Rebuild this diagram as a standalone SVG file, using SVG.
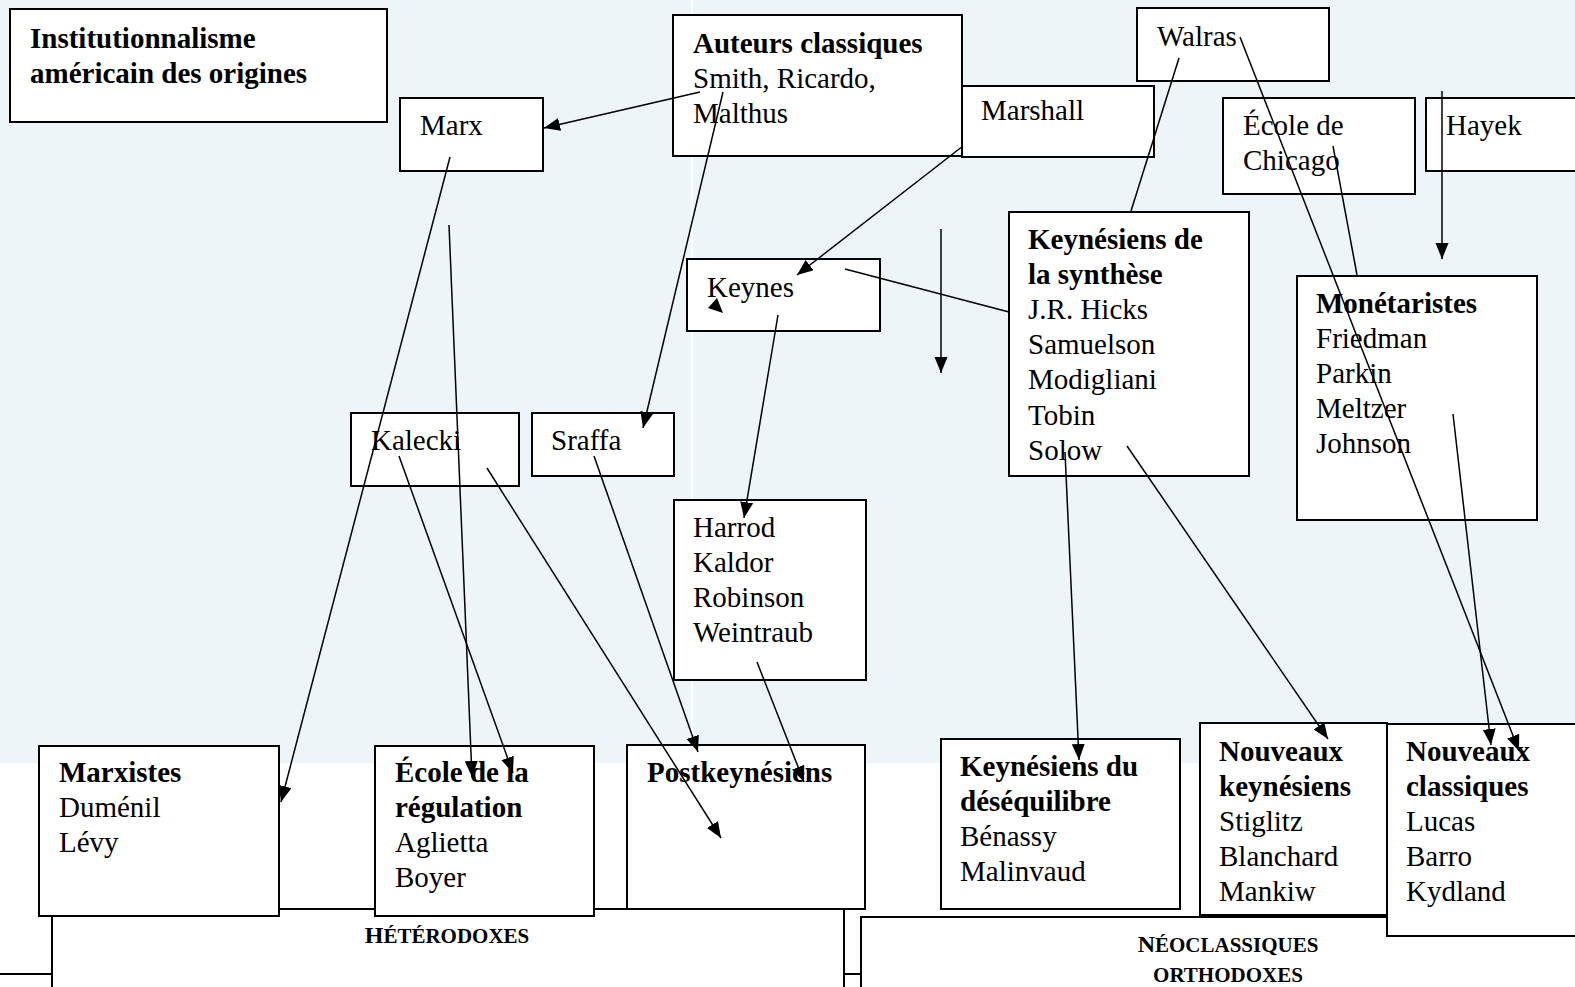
<svg xmlns="http://www.w3.org/2000/svg" width="1575" height="987" viewBox="0 0 1575 987">
<style>
.box{fill:#fff;stroke:#000;stroke-width:2}
.t{font-family:"Liberation Serif","Times New Roman",serif;font-size:29px;fill:#000}
.b{font-weight:bold}
.sc{font-family:"Liberation Serif","Times New Roman",serif;font-weight:bold;fill:#000;text-anchor:middle}
.ln{stroke:#000;stroke-width:1.5;fill:none}
.ar{stroke:#000;stroke-width:1.5;fill:none;marker-end:url(#ah)}
</style>
<defs>
<marker id="ah" markerUnits="userSpaceOnUse" markerWidth="18" markerHeight="14" refX="16" refY="6.5" orient="auto">
<path d="M0,0 L16,6.5 L0,13 z" fill="#000"/>
</marker>
</defs>
<rect x="0" y="0" width="1575" height="763" fill="#edf5f9"/>
<rect x="691" y="0" width="2" height="763" fill="#fff"/>
<line x1="0" y1="974" x2="870" y2="974" stroke="#000" stroke-width="2"/>

<g id="heterodoxes">
<rect class="box" x="52" y="909" width="792" height="100"/>
<text class="sc" x="447" y="943"><tspan font-size="24">H</tspan><tspan font-size="21">ÉTÉRODOXES</tspan></text>
</g>
<g id="neoclassiques">
<rect class="box" x="861" y="917" width="740" height="100"/>
<text class="sc" x="1228" y="952"><tspan font-size="24">N</tspan><tspan font-size="21">ÉOCLASSIQUES</tspan></text>
<text class="sc" x="1228" y="982" font-size="21">ORTHODOXES</text>
</g>

<g id="institutionnalisme">
<rect class="box" x="10" y="9" width="377" height="113"/>
<text class="t b" x="30" y="48">Institutionnalisme</text>
<text class="t b" x="30" y="83">américain des origines</text>
</g>
<g id="auteurs">
<rect class="box" x="673" y="15" width="289" height="141"/>
<text class="t b" x="693" y="53">Auteurs classiques</text>
<text class="t" x="693" y="88">Smith, Ricardo,</text>
<text class="t" x="693" y="123">Malthus</text>
</g>
<g id="marx">
<rect class="box" x="400" y="98" width="143" height="73"/>
<text class="t" x="420" y="135">Marx</text>
</g>
<g id="walras">
<rect class="box" x="1137" y="8" width="192" height="73"/>
<text class="t" x="1157" y="46" font-size="28">Walras</text>
</g>
<g id="marshall">
<rect class="box" x="962" y="86" width="192" height="71"/>
<text class="t" x="981" y="120" font-size="26">Marshall</text>
</g>
<g id="chicago">
<rect class="box" x="1223" y="98" width="192" height="96"/>
<text class="t" x="1243" y="135">École de</text>
<text class="t" x="1243" y="170">Chicago</text>
</g>
<g id="hayek">
<rect class="box" x="1426" y="98" width="170" height="73"/>
<text class="t" x="1446" y="135">Hayek</text>
</g>
<g id="keynes">
<rect class="box" x="687" y="259" width="193" height="72"/>
<text class="t" x="707" y="297">Keynes</text>
</g>
<g id="synthese">
<rect class="box" x="1009" y="212" width="240" height="264"/>
<text class="t b" x="1028" y="249">Keynésiens de</text>
<text class="t b" x="1028" y="284">la synthèse</text>
<text class="t" x="1028" y="319">J.R. Hicks</text>
<text class="t" x="1028" y="354">Samuelson</text>
<text class="t" x="1028" y="389">Modigliani</text>
<text class="t" x="1028" y="425">Tobin</text>
<text class="t" x="1028" y="460">Solow</text>
</g>
<g id="monetaristes">
<rect class="box" x="1297" y="276" width="240" height="244"/>
<text class="t b" x="1316" y="313">Monétaristes</text>
<text class="t" x="1316" y="348">Friedman</text>
<text class="t" x="1316" y="383">Parkin</text>
<text class="t" x="1316" y="418">Meltzer</text>
<text class="t" x="1316" y="453">Johnson</text>
</g>
<g id="kalecki">
<rect class="box" x="351" y="413" width="168" height="73"/>
<text class="t" x="371" y="450">Kalecki</text>
</g>
<g id="sraffa">
<rect class="box" x="532" y="413" width="142" height="63"/>
<text class="t" x="551" y="450">Sraffa</text>
</g>
<g id="harrod">
<rect class="box" x="674" y="500" width="192" height="180"/>
<text class="t" x="693" y="537">Harrod</text>
<text class="t" x="693" y="572">Kaldor</text>
<text class="t" x="693" y="607">Robinson</text>
<text class="t" x="693" y="642">Weintraub</text>
</g>
<g id="marxistes">
<rect class="box" x="39" y="746" width="240" height="170"/>
<text class="t b" x="59" y="782">Marxistes</text>
<text class="t" x="59" y="817">Duménil</text>
<text class="t" x="59" y="852">Lévy</text>
</g>
<g id="regulation">
<rect class="box" x="375" y="746" width="219" height="170"/>
<text class="t b" x="395" y="782">École de la</text>
<text class="t b" x="395" y="817">régulation</text>
<text class="t" x="395" y="852">Aglietta</text>
<text class="t" x="395" y="887">Boyer</text>
</g>
<g id="postkeynesiens">
<rect class="box" x="627" y="745" width="238" height="164"/>
<text class="t b" x="647" y="782">Postkeynésiens</text>
</g>
<g id="desequilibre">
<rect class="box" x="941" y="739" width="239" height="170"/>
<text class="t b" x="960" y="776">Keynésiens du</text>
<text class="t b" x="960" y="811">déséquilibre</text>
<text class="t" x="960" y="846">Bénassy</text>
<text class="t" x="960" y="881">Malinvaud</text>
</g>
<g id="nouveauxkeynesiens">
<rect class="box" x="1200" y="723" width="187" height="192"/>
<text class="t b" x="1219" y="761">Nouveaux</text>
<text class="t b" x="1219" y="796">keynésiens</text>
<text class="t" x="1219" y="831">Stiglitz</text>
<text class="t" x="1219" y="866">Blanchard</text>
<text class="t" x="1219" y="901">Mankiw</text>
</g>
<g id="nouveauxclassiques">
<rect class="box" x="1387" y="724" width="210" height="212"/>
<text class="t b" x="1406" y="761">Nouveaux</text>
<text class="t b" x="1406" y="796">classiques</text>
<text class="t" x="1406" y="831">Lucas</text>
<text class="t" x="1406" y="866">Barro</text>
<text class="t" x="1406" y="901">Kydland</text>
</g>

<g id="connectors">
<line class="ar" x1="700" y1="92" x2="544" y2="128" stroke-width="2"/>
<line class="ar" x1="723" y1="92" x2="643" y2="428"/>
<line class="ar" x1="963" y1="146" x2="797" y2="275"/>
<line class="ln" x1="1179" y1="58" x2="1131" y2="211"/>
<line class="ar" x1="1240" y1="37" x2="1519" y2="751"/>
<line class="ln" x1="1333" y1="146" x2="1357" y2="275"/>
<line class="ar" x1="1442" y1="91" x2="1442" y2="259"/>
<line class="ar" x1="941" y1="229" x2="941" y2="373"/>
<line class="ln" x1="845" y1="269" x2="1009" y2="312"/>
<polygon points="717,298 708,308 723,313" fill="#000"/>
<line class="ar" x1="778" y1="315" x2="744" y2="518"/>
<line class="ar" x1="450" y1="157" x2="281" y2="802"/>
<line class="ar" x1="449" y1="225" x2="472" y2="777"/>
<line class="ar" x1="399" y1="456" x2="513" y2="773"/>
<line class="ar" x1="487" y1="468" x2="721" y2="838"/>
<line class="ar" x1="594" y1="456" x2="698" y2="752"/>
<line class="ar" x1="757" y1="662" x2="804" y2="782"/>
<line class="ar" x1="1065" y1="452" x2="1079" y2="760"/>
<line class="ar" x1="1127" y1="446" x2="1328" y2="739"/>
<line class="ar" x1="1453" y1="414" x2="1491" y2="745"/>
</g>
</svg>
